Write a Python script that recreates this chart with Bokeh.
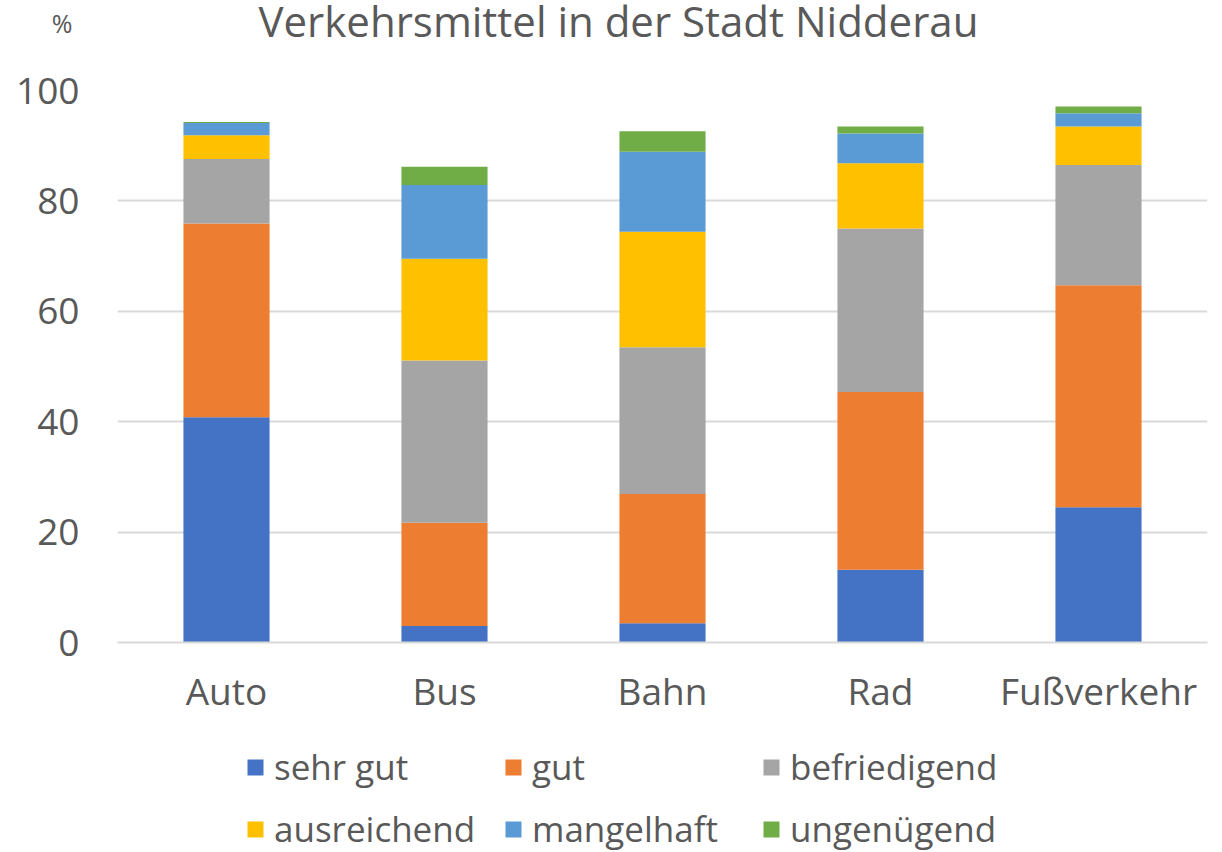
from bokeh.plotting import figure
from bokeh.models import FactorRange, FixedTicker, Legend, LegendItem, Range1d, Label
from bokeh.layouts import column
from bokeh.embed import file_html
from bokeh.resources import INLINE

categories = ["Auto", "Bus", "Bahn", "Rad", "Fußverkehr"]
series_names = ["sehr gut", "gut", "befriedigend", "ausreichend", "mangelhaft", "ungenügend"]
sehr_gut = [40.8, 3.0, 3.5, 13.2, 24.5]
gut = [35.1, 18.7, 23.4, 32.2, 40.2]
befriedigend = [11.7, 29.4, 26.6, 29.6, 21.8]
ausreichend = [4.3, 18.4, 20.9, 11.8, 7.0]
mangelhaft = [2.2, 13.4, 14.5, 5.4, 2.4]
ungenuegend = [0.2, 3.3, 3.7, 1.3, 1.2]
y_ticks = [0, 20, 40, 60, 80, 100]
title_text = "Verkehrsmittel in der Stadt Nidderau"
unit_text = "%"

colors = ["#4472C4", "#ED7D31", "#A5A5A5", "#FFC000", "#5B9BD5", "#70AD47"]
FONT = "Open Sans"
TXT = "#595959"

data = {"cat": categories, "sehr gut": sehr_gut, "gut": gut, "befriedigend": befriedigend,
        "ausreichend": ausreichend, "mangelhaft": mangelhaft, "ungenügend": ungenuegend}


def bare(fig):
    fig.axis.visible = False
    fig.grid.visible = False
    fig.outline_line_color = None


# title strip (unit "%" as a horizontal axis label on the left)
p0 = figure(x_range=Range1d(0, 1222), y_range=Range1d(45, 0), frame_width=1222, frame_height=45,
            output_backend="svg", toolbar_location=None,
            min_border_left=0, min_border_right=0, min_border_top=0, min_border_bottom=0)
p0.xaxis.visible = False
p0.grid.visible = False
p0.outline_line_color = None
p0.yaxis.ticker = FixedTicker(ticks=[])
p0.yaxis.axis_line_color = None
p0.yaxis.major_tick_line_color = None
p0.yaxis.minor_tick_line_color = None
p0.yaxis.major_label_text_font_size = "0px"
p0.yaxis.axis_label = unit_text
p0.yaxis.axis_label_orientation = "horizontal"
p0.yaxis.axis_label_text_font = FONT
p0.yaxis.axis_label_text_font_size = "25px"
p0.yaxis.axis_label_text_font_style = "normal"
p0.yaxis.axis_label_text_color = TXT
p0.yaxis.axis_label_standoff = 45
p0.add_layout(Label(x=141, y=20, text=title_text, text_font=FONT, text_font_size="42px",
                    text_color=TXT, text_align="left", text_baseline="middle"))

# main chart
p = figure(x_range=FactorRange(*categories, range_padding=0), y_range=Range1d(0, 100),
           frame_width=1090, frame_height=552, output_backend="svg", toolbar_location=None,
           min_border_left=117, min_border_right=15, min_border_top=45, min_border_bottom=80)
p.vbar_stack(series_names, x="cat", width=0.395, source=data, color=colors, line_color=None)

p.outline_line_color = None
p.xgrid.grid_line_color = None
p.ygrid.grid_line_color = "#D9D9D9"
p.ygrid.grid_line_width = 2
p.yaxis.ticker = FixedTicker(ticks=y_ticks)
p.yaxis.axis_line_color = None
p.yaxis.major_tick_line_color = None
p.yaxis.minor_tick_line_color = None
p.yaxis.major_label_text_font = FONT
p.yaxis.major_label_text_font_size = "37px"
p.yaxis.major_label_text_color = TXT
p.yaxis.major_label_standoff = 32
p.xaxis.axis_line_color = "#D9D9D9"
p.xaxis.axis_line_width = 2
p.xaxis.major_tick_line_color = None
p.xaxis.minor_tick_line_color = None
p.xaxis.major_label_text_font = FONT
p.xaxis.major_label_text_font_size = "37px"
p.xaxis.major_label_text_color = TXT
p.xaxis.major_label_standoff = 16

# legend strip (same stacked series, kept far outside its visible range; only the legend shows)
p2 = figure(x_range=FactorRange(*categories), y_range=Range1d(1000, 1001),
            frame_width=1222, frame_height=130, output_backend="svg", toolbar_location=None,
            min_border_left=0, min_border_right=0, min_border_top=0, min_border_bottom=0)
bare(p2)
leg_renderers = p2.vbar_stack(series_names, x="cat", width=0.001, source=data, color=colors,
                              line_color=None)
items = [LegendItem(label=n, renderers=[r]) for n, r in zip(series_names, leg_renderers)]
for row, ypos in ((items[:3], 62), (items[3:], 0)):
    lg = Legend(items=row, orientation="horizontal", location=(245, ypos),
                label_text_font=FONT, label_text_font_size="35px", label_text_color=TXT,
                glyph_width=20, glyph_height=20, label_standoff=9, spacing=20,
                label_width=209, label_height=20, border_line_color=None,
                background_fill_alpha=0, padding=0, margin=0)
    p2.add_layout(lg, "center")

layout = column(p0, p, p2, spacing=0)
open("out.html", "w").write(file_html(layout, INLINE))
